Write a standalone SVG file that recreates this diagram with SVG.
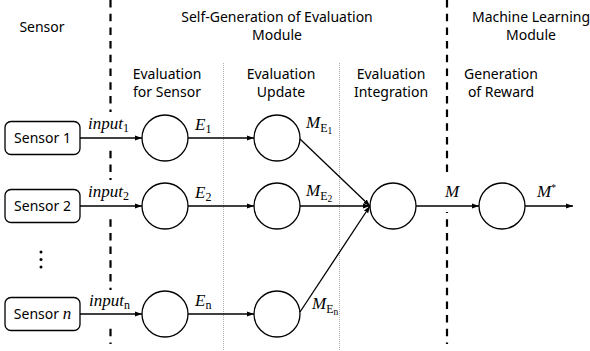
<svg xmlns="http://www.w3.org/2000/svg" width="590" height="351" viewBox="0 0 590 351">
<style>
.t{font-family:"Noto Sans","Open Sans",sans-serif;font-size:14px;fill:#000;text-anchor:middle}
.m{font-family:"Liberation Serif","DejaVu Serif",serif;font-size:17px;font-style:italic;fill:#000}
.s{font-size:12px;font-style:normal}
.ss{font-size:9.5px;font-style:normal}
.box{fill:#fff;stroke:#000;stroke-width:1.3}
.node{fill:#fff;stroke:#000;stroke-width:1.3}
.con{stroke:#000;stroke-width:1.3;fill:none;marker-end:url(#ah)}
.div{stroke:#000;stroke-width:2.2;stroke-dasharray:7.5 6.2}
.sub{stroke:#999;stroke-width:0.8;stroke-dasharray:1 1}
.bg{fill:#fff}
</style>
<defs>
<marker id="ah" markerUnits="userSpaceOnUse" markerWidth="8" markerHeight="6" refX="7" refY="3" orient="auto">
<path d="M0,0.5 L7,3 L0,5.5 Z" fill="#000"/>
</marker>
</defs>
<rect width="590" height="351" fill="#fff"/>

<g id="dividers">
<line class="div" x1="110.5" y1="0" x2="110.5" y2="344"/>
<line class="div" x1="447" y1="0" x2="447" y2="344"/>
<line class="sub" x1="223.5" y1="63" x2="223.5" y2="351"/>
<line class="sub" x1="339.5" y1="63" x2="339.5" y2="351"/>
</g>

<g id="label-backgrounds">
<rect class="bg" x="86" y="112" width="48" height="36"/>
<rect class="bg" x="86" y="180" width="48" height="36"/>
<rect class="bg" x="86" y="290" width="48" height="36"/>
<rect class="bg" x="440" y="175" width="22" height="37"/>
</g>

<g id="headers">
<text class="t" x="42" y="32">Sensor</text>
<text class="t" x="277" y="22">Self-Generation of Evaluation</text>
<text class="t" x="277" y="40">Module</text>
<text class="t" x="531" y="22">Machine Learning</text>
<text class="t" x="531" y="40">Module</text>
<text class="t" x="167" y="79">Evaluation</text>
<text class="t" x="167" y="97">for Sensor</text>
<text class="t" x="281" y="79">Evaluation</text>
<text class="t" x="281" y="97">Update</text>
<text class="t" x="391" y="79">Evaluation</text>
<text class="t" x="391" y="97">Integration</text>
<text class="t" x="501" y="79">Generation</text>
<text class="t" x="501" y="97">of Reward</text>
</g>

<g id="sensor1"><rect class="box" x="5" y="121.5" width="75" height="33" rx="6"/><text class="t" x="42.5" y="143">Sensor 1</text></g>
<g id="sensor2"><rect class="box" x="5" y="189.5" width="75" height="33" rx="6"/><text class="t" x="42.5" y="211">Sensor 2</text></g>
<g id="sensorn"><rect class="box" x="5" y="297.5" width="75" height="33" rx="6"/><text class="t" x="42.5" y="319">Sensor <tspan font-family="Liberation Serif, serif" font-style="italic" font-size="17">n</tspan></text></g>
<g id="ellipsis"><circle cx="41" cy="252" r="1.5"/><circle cx="41" cy="259.5" r="1.5"/><circle cx="41" cy="267" r="1.5"/></g>

<g id="eval1"><circle class="node" cx="165" cy="138" r="23"/></g>
<g id="eval2"><circle class="node" cx="165" cy="206" r="23"/></g>
<g id="evaln"><circle class="node" cx="165" cy="314" r="23"/></g>
<g id="upd1"><circle class="node" cx="277" cy="138" r="23"/></g>
<g id="upd2"><circle class="node" cx="277" cy="206" r="23"/></g>
<g id="updn"><circle class="node" cx="277" cy="314" r="23"/></g>
<g id="integration"><circle class="node" cx="393" cy="206" r="23"/></g>
<g id="reward"><circle class="node" cx="502" cy="206" r="23"/></g>

<g id="connectors">
<line class="con" x1="80" y1="138" x2="142" y2="138"/>
<line class="con" x1="80" y1="206" x2="142" y2="206"/>
<line class="con" x1="80" y1="314" x2="142" y2="314"/>
<line class="con" x1="188" y1="138" x2="254" y2="138"/>
<line class="con" x1="188" y1="206" x2="254" y2="206"/>
<line class="con" x1="188" y1="314" x2="254" y2="314"/>
<line class="con" x1="300" y1="139" x2="370" y2="206"/>
<line class="con" x1="300" y1="206" x2="370" y2="206"/>
<line class="con" x1="300" y1="312" x2="370" y2="206"/>
<line class="con" x1="416" y1="206" x2="479" y2="206"/>
<line class="con" x1="525" y1="206" x2="573" y2="206"/>
</g>

<g id="labels">
<text class="m" x="88" y="129">input<tspan class="s" dy="3">1</tspan></text>
<text class="m" x="88" y="197">input<tspan class="s" dy="3">2</tspan></text>
<text class="m" x="89" y="306">input<tspan class="s" dy="3" font-style="italic">n</tspan></text>
<text class="m" x="195" y="130">E<tspan class="s" dy="3">1</tspan></text>
<text class="m" x="195" y="198">E<tspan class="s" dy="3">2</tspan></text>
<text class="m" x="195" y="306">E<tspan class="s" dy="3" font-style="italic">n</tspan></text>
<text class="m" x="306" y="128">M<tspan class="s" dy="4" font-style="italic">E</tspan><tspan class="ss" dy="2">1</tspan></text>
<text class="m" x="306" y="196">M<tspan class="s" dy="4" font-style="italic">E</tspan><tspan class="ss" dy="2">2</tspan></text>
<text class="m" x="312" y="309">M<tspan class="s" dy="4" font-style="italic">E</tspan><tspan class="ss" dy="2" font-style="italic">n</tspan></text>
<text class="m" x="445" y="197">M</text>
<text class="m" x="537" y="197">M<tspan class="ss" dy="-6">*</tspan></text>
</g>
</svg>
